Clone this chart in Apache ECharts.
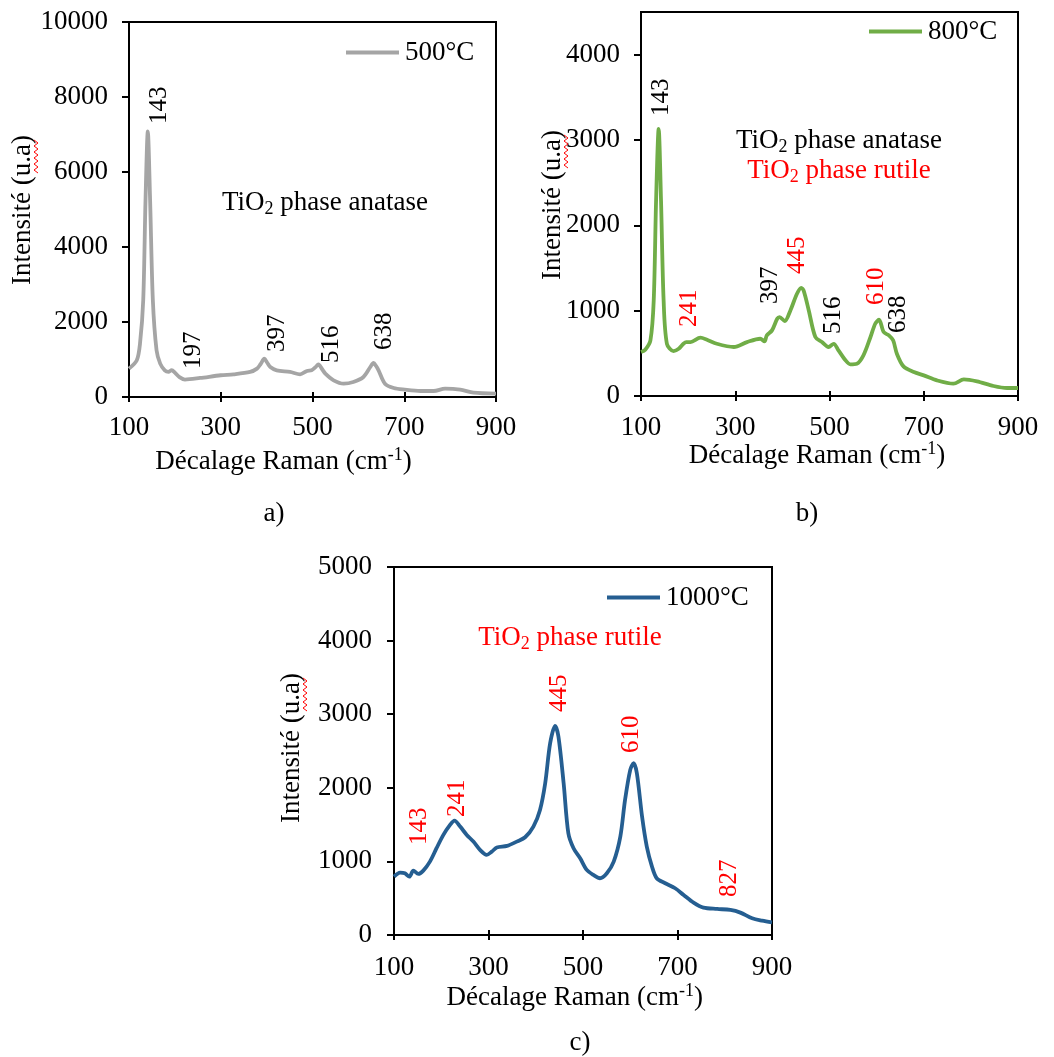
<!DOCTYPE html>
<html><head><meta charset="utf-8">
<script src="https://cdn.jsdelivr.net/npm/echarts@6/dist/echarts.min.js"></script>
<style>html,body{margin:0;padding:0;background:#fff}#c{width:1054px;height:1057px}</style>
</head><body><div id="c"></div><script>
// ---- data ----
const x500 = [100,117,124,131,136,141,146,152,160,168,178,186,193,200,210,222,255,300,328,364,379,387,395,401,408,422,451,473,488,498,506,513,520,528,546,568,589,611,626,633,639,644,658,677,701,735,764,789,822,851,900];
const y500 = [757,980,1425,2580,5250,7080,5250,2580,1250,890,712,670,715,650,530,465,507,580,605,668,757,880,1020,920,800,712,668,605,695,712,790,870,760,623,445,356,400,534,800,910,820,712,356,240,196,160,160,222,196,116,89];
const x800 = [100,109,120,127,132,137.5,142.5,148,155,169,180,190,196,205,226,240,261,297,325,353,362,367,378,389,394,405,417,431,440,445,456,470,484,498,509,519,534,544,558,572,587,597,605,615,626,635,643,657,679,700,728,763,785,813,848,877,900];
const y800 = [515,542,652,1120,2290,3130,2290,1120,612,527,554,612,632,632,683,660,612,574,632,671,640,710,769,905,925,878,1003,1198,1268,1237,1003,691,632,574,612,535,418,371,378,476,691,847,894,749,710,652,495,347,281,242,183,144,195,172,117,94,94];
const x1000 = [100,113,123,132.5,141,151.5,162,176,190,204.5,218.6,228,240,254,268,282,296,307,317.5,339,360,377.5,395,409,420,430.5,441,448,459,469,480,494,508,522,536,550.5,565,579,589,600,607,614,625,635,646,656,674,695,713,734,755,784,812,833,858,879,900];
const y1000 = [793,848,839,793,875,830,875,997,1179,1360,1496,1555,1473,1360,1269,1156,1088,1133,1188,1210,1269,1328,1473,1700,2063,2606,2842,2697,2063,1383,1179,1043,884,816,771,839,997,1337,1836,2244,2334,2198,1609,1201,929,771,703,635,544,440,372,354,340,304,227,195,172];

// peak labels (text, anchor x in cm-1, anchor y in intensity, rutile flag)
const peaks500Text = ['143','197','397','516','638'];
const peaks500X = [164.7,239.6,422,540,656];
const peaks500Y = [7284,757,1202,917,1247];
const peaks500Red = [0,0,0,0,0];
const peaks800Text = ['143','241','397','445','516','610','638'];
const peaks800X = [142.4,202.6,374.4,430,506.7,598.7,644.6];
const peaks800Y = [3285,808,1073,1424,730,1061,737];
const peaks800Red = [0,1,0,1,0,1,0];
const peaks1000Text = ['143','241','445','610','827'];
const peaks1000X = [153.7,232.7,448.8,600.6,809];
const peaks1000Y = [1224,1609,3024,2470,521];
const peaks1000Red = [1,1,1,1,1];

const seriesNames = ['500°C','800°C','1000°C'];
const xTicks = {min:100, max:900, interval:200};
const yMax = [10000, 4500, 5000];
const yInterval = [2000, 1000, 1000];

// ---- style ----
const FONT = '"Liberation Serif","Times New Roman",serif';
const FS = 27;
const BLACK = '#000';
const RED = '#FF0000';
const colors = ['#A5A5A5','#70AD47','#255E91'];
const grids = [
  {left:129, top:22, width:367, height:375},
  {left:641, top:12, width:377, height:384},
  {left:394, top:567, width:378, height:368}
];
const xLabelMargin = [17,18,19];
const yLabelMargin = [21,21,22];

const pair = (xs, ys) => xs.map((v,i)=>[v, ys[i]]);
const datasets = [pair(x500,y500), pair(x800,y800), pair(x1000,y1000)];
const peakSets = [
  [peaks500Text,peaks500X,peaks500Y,peaks500Red],
  [peaks800Text,peaks800X,peaks800Y,peaks800Red],
  [peaks1000Text,peaks1000X,peaks1000Y,peaks1000Red]
];

const xAxis = [], yAxis = [], series = [], legend = [];
grids.forEach((g,i)=>{
  xAxis.push({
    gridIndex:i, type:'value', position:'bottom', min:xTicks.min, max:xTicks.max, interval:xTicks.interval,
    axisLine:{show:true, onZero:false, lineStyle:{color:BLACK, width:2}},
    axisTick:{show:true, inside:false, length:5, lineStyle:{color:BLACK, width:2}},
    axisLabel:{show:true, margin:xLabelMargin[i], color:BLACK, fontFamily:FONT, fontSize:FS, formatter:v=>String(v)},
    splitLine:{show:false}
  });
  xAxis.push({
    gridIndex:i, type:'value', position:'bottom', min:xTicks.min, max:xTicks.max, interval:xTicks.interval,
    axisLine:{show:false},
    axisTick:{show:true, inside:true, length:5, lineStyle:{color:BLACK, width:2}},
    axisLabel:{show:false}, splitLine:{show:false}
  });
  yAxis.push({
    gridIndex:i, type:'value', min:0, max:yMax[i], interval:yInterval[i],
    axisLine:{show:true, lineStyle:{color:BLACK, width:2}},
    axisTick:{show:true, inside:false, length:7, lineStyle:{color:BLACK, width:2}},
    axisLabel:{show:true, margin:yLabelMargin[i], color:BLACK, fontFamily:FONT, fontSize:FS,
      showMaxLabel: i!==1, formatter:v=>String(v)},
    splitLine:{show:false}
  });
  series.push({
    name:seriesNames[i], type:'line', xAxisIndex:2*i, yAxisIndex:i,
    data:datasets[i], showSymbol:false, smooth:0.3, color:colors[i],
    lineStyle:{color:colors[i], width:3.8}, z:3, silent:true
  });
});

const legendPos = [{left:346, top:39}, {left:869, top:18}, {left:607, top:584}];
legendPos.forEach((p,i)=>{
  legend.push({
    data:[seriesNames[i]], left:p.left, top:p.top, padding:0, icon:'rect',
    itemWidth:53, itemHeight:4, itemGap:6,
    textStyle:{fontFamily:FONT, fontSize:FS, color:BLACK, padding:[0,0,0,1]},
    selectedMode:false
  });
});

const richMain = (color)=>({
  a:{fontFamily:FONT, fontSize:FS, fill:color, lineHeight:31, verticalAlign:'middle'},
  s:{fontFamily:FONT, fontSize:18, fill:color, lineHeight:14, verticalAlign:'bottom'},
  u:{fontFamily:FONT, fontSize:18, fill:color, lineHeight:14, verticalAlign:'top'}
});
const txt = (x,y,text,color,rot)=>({
  type:'text', x:x, y:y, rotation:rot||0, silent:true, z:10,
  style:{text:text, align:'center', verticalAlign:'middle', fill:color,
    fontFamily:FONT, fontSize:FS, rich:richMain(color)}
});
const xTitle = '{a|Décalage Raman (cm}{u|-1}{a|)}';
const yTitle = '{a|Intensité (u.a)}';
const squiggle = (cx,cy)=>{
  const pts=[]; for(let k=0;k<=11;k++){ pts.push([cx + (k%2? 15:11), cy - 70 + k*3]); }
  return {type:'polyline', silent:true, z:11, shape:{points:pts}, style:{stroke:RED, lineWidth:1, fill:null}};
};
const yTitlePos = [[23,210],[553,205],[292,748]];
const graphic = [
  txt(283.5,462,xTitle,BLACK), txt(817,456,xTitle,BLACK), txt(574.7,998,xTitle,BLACK),
  ...yTitlePos.map(p=>txt(p[0],p[1],yTitle,BLACK,Math.PI/2)),
  ...yTitlePos.map(p=>squiggle(p[0],p[1])),
  txt(325,203,'{a|TiO}{s|2}{a| phase anatase}',BLACK),
  txt(839,141,'{a|TiO}{s|2}{a| phase anatase}',BLACK),
  txt(839,171,'{a|TiO}{s|2}{a| phase rutile}',RED),
  txt(570,638,'{a|TiO}{s|2}{a| phase rutile}',RED),
  txt(274,514,'{a|a)}',BLACK), txt(807,514,'{a|b)}',BLACK), txt(580,1043,'{a|c)}',BLACK)
];

const chart = echarts.init(document.getElementById('c'), null, {renderer:'canvas'});
const baseOption = {
  animation:false, backgroundColor:'#fff',
  grid: grids.map(g=>Object.assign({show:true, borderColor:BLACK, borderWidth:2, backgroundColor:'transparent', containLabel:false}, g)),
  xAxis, yAxis, series, legend, graphic
};
chart.setOption(baseOption);

// peak annotations, placed through the chart's own scales
const peakGraphics = [];
peakSets.forEach(([tx,px,py,pr],i)=>{
  tx.forEach((t,k)=>{
    const p = chart.convertToPixel({xAxisIndex:2*i, yAxisIndex:i}, [px[k], py[k]]);
    peakGraphics.push({
      type:'text', x:Math.round(p[0]), y:Math.round(p[1]), rotation:Math.PI/2, silent:true, z:12,
      style:{text:t, align:'left', verticalAlign:'middle', fill: pr[k] ? RED : BLACK,
        fontFamily:FONT, fontSize:25}
    });
  });
});
chart.setOption({graphic: graphic.concat(peakGraphics)});
</script></body></html>
